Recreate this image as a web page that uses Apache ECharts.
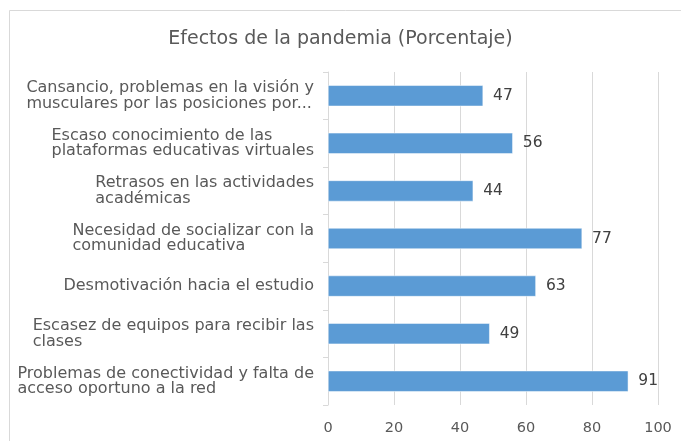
<!DOCTYPE html>
<html>
<head>
<meta charset="utf-8">
<script src="https://cdn.jsdelivr.net/npm/echarts@6/dist/echarts.min.js"></script>
<style>
html,body{margin:0;padding:0;background:#fff;}
#c{width:681px;height:441px;}
</style>
</head>
<body>
<div id="c"></div>
<script>
// Categories listed bottom to top (as ECharts category axis draws them)
var categories = [
  "Problemas de conectividad y falta de\nacceso oportuno a la red",
  "Escasez de equipos para recibir las\nclases",
  "Desmotivación hacia el estudio",
  "Necesidad de socializar con la\ncomunidad educativa",
  "Retrasos en las actividades\nacadémicas",
  "Escaso conocimiento de las\nplataformas educativas virtuales",
  "Cansancio, problemas en la visión y\nmusculares por las posiciones por..."
];
var values = [91, 49, 63, 77, 44, 56, 47];
var xTicks = [0, 20, 40, 60, 80, 100];
var titleText = "Efectos de la pandemia (Porcentaje)";

var FONT = "DejaVu Sans";
var chart = echarts.init(document.getElementById('c'), null, {renderer: 'canvas'});
chart.setOption({
  animation: false,
  backgroundColor: '#ffffff',
  title: {
    text: titleText,
    left: 'center',
    top: 25,
    textStyle: {fontFamily: FONT, fontSize: 19, fontWeight: 'normal', color: '#595959'}
  },
  graphic: [{
    type: 'rect',
    shape: {x: 9.5, y: 10.5, width: 800, height: 600},
    style: {fill: 'none', stroke: '#d9d9d9', lineWidth: 1},
    silent: true,
    z: -1
  }],
  grid: {left: 328, right: 23, top: 72, bottom: 36, containLabel: false},
  xAxis: {
    type: 'value',
    min: 0, max: 100, interval: 20,
    axisLine: {show: false},
    axisTick: {show: false},
    splitLine: {show: true, lineStyle: {color: '#d9d9d9', width: 1}},
    axisLabel: {
      fontFamily: FONT, fontSize: 14.5, color: '#595959', margin: 16,
      formatter: function (v) { return xTicks.indexOf(v) >= 0 ? String(v) : ''; }
    }
  },
  yAxis: {
    type: 'category',
    data: categories,
    axisLine: {show: true, lineStyle: {color: '#d9d9d9'}},
    axisTick: {show: true, length: 5, lineStyle: {color: '#d9d9d9'}},
    axisLabel: {
      fontFamily: FONT, fontSize: 16, color: '#595959', margin: 14, align: 'right',
      lineHeight: 15.5,
      formatter: function (v) {
        return v.split('\n').map(function (l) { return '{a|' + l + '}'; }).join('\n');
      },
      rich: {a: {align: 'left', fontFamily: FONT, fontSize: 16, color: '#595959', lineHeight: 15.5}}
    }
  },
  series: [{
    type: 'bar',
    data: values,
    barWidth: 21,
    itemStyle: {color: '#5b9bd5', borderColor: '#ffffff', borderWidth: 0.5},
    label: {
      show: true, position: 'right', distance: 10,
      fontFamily: FONT, fontSize: 15.5, color: '#404040'
    }
  }]
});
</script>
</body>
</html>
